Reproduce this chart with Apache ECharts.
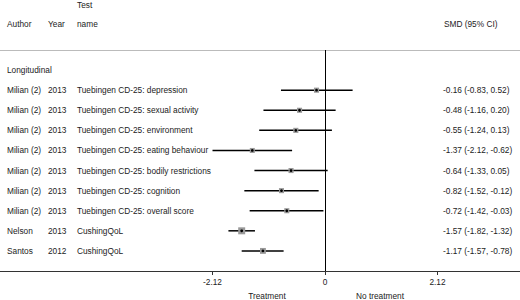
<!DOCTYPE html>
<html>
<head>
<meta charset="utf-8">
<script src="https://cdn.jsdelivr.net/npm/echarts@6/dist/echarts.min.js"></script>
<style>
  html, body { margin: 0; padding: 0; background: #fff; }
  #forest { width: 520px; height: 300px; }
</style>
</head>
<body>
<div id="forest"></div>
<script>
// rows of the forest plot (row 0 is the "Longitudinal" group header)
var groupLabel = 'Longitudinal';
var authors = ['Milian (2)', 'Milian (2)', 'Milian (2)', 'Milian (2)', 'Milian (2)', 'Milian (2)', 'Milian (2)', 'Nelson', 'Santos'];
var years = ['2013', '2013', '2013', '2013', '2013', '2013', '2013', '2013', '2012'];
var testNames = [
  'Tuebingen CD-25: depression',
  'Tuebingen CD-25: sexual activity',
  'Tuebingen CD-25: environment',
  'Tuebingen CD-25: eating behaviour',
  'Tuebingen CD-25: bodily restrictions',
  'Tuebingen CD-25: cognition',
  'Tuebingen CD-25: overall score',
  'CushingQoL',
  'CushingQoL'
];
var smd   = [-0.16, -0.48, -0.55, -1.37, -0.64, -0.82, -0.72, -1.57, -1.17];
var lower = [-0.83, -1.16, -1.24, -2.12, -1.33, -1.52, -1.42, -1.82, -1.57];
var upper = [ 0.52,  0.20,  0.13, -0.62,  0.05, -0.12, -0.03, -1.32, -0.78];
var xTicks = [-2.12, 0, 2.12];

var font = 'Liberation Sans, Arial, sans-serif';
var txtColor = '#222';
var fs = 8.3;

var chart = echarts.init(document.getElementById('forest'), null, {renderer: 'svg'});

// one data item per row index
var rows = [[0, -1]];
smd.forEach(function (v, i) { rows.push([0, i + 1, i]); });

function txt(x, y, s, align) {
  return {
    type: 'text',
    style: {x: x, y: y, text: s, fill: txtColor, font: fs + 'px ' + font,
      textAlign: align || 'left', textVerticalAlign: 'middle'}
  };
}

var option = {
  animation: false,
  grid: {left: 0, right: 0, top: 50, bottom: 29},
  xAxis: [{
    type: 'value', min: -6.124, max: 3.674, position: 'bottom',
    splitLine: {show: false},
    axisLine: {onZero: false, lineStyle: {color: '#333', width: 1}},
    axisTick: {show: true, customValues: xTicks, length: 4, lineStyle: {color: '#333'}},
    axisLabel: {customValues: xTicks, color: txtColor, fontSize: fs, fontFamily: font, margin: 7,
      formatter: function (v) { return String(v); }}
  }, {
    type: 'value', min: -6.124, max: 3.674, position: 'top',
    splitLine: {show: false},
    axisLine: {onZero: false, lineStyle: {color: '#bbb', width: 1}},
    axisTick: {show: false}, axisLabel: {show: false}
  }],
  yAxis: {
    type: 'value', min: -1, max: 10, inverse: true, show: false
  },
  graphic: [
    txt(77, 5, 'Test'),
    txt(7, 24, 'Author'),
    txt(48, 24, 'Year'),
    txt(77, 24, 'name'),
    txt(444, 24, 'SMD (95% CI)'),
    txt(267, 296, 'Treatment', 'center'),
    txt(380, 296, 'No treatment', 'center')
  ],
  series: [{
    type: 'custom',
    data: rows,
    silent: true,
    markLine: {
      silent: true, symbol: 'none', label: {show: false},
      lineStyle: {color: '#000', width: 1, type: 'solid'},
      data: [{xAxis: 0}]
    },
    renderItem: function (params, api) {
      var i = rows[params.dataIndex][2];
      var y = api.coord([0, params.dataIndex])[1];
      if (i === undefined) {
        return {type: 'group', children: [txt(7, y, groupLabel)]};
      }
      var pL = api.coord([lower[i], 0])[0];
      var pU = api.coord([upper[i], 0])[0];
      var pM = api.coord([smd[i], 0])[0];
      var box = 4 + 1.5 / (upper[i] - lower[i]);
      return {
        type: 'group',
        children: [
          txt(7, y, authors[i]),
          txt(48, y, years[i]),
          txt(77, y, testNames[i]),
          txt(443, y, smd[i].toFixed(2) + ' (' + lower[i].toFixed(2) + ', ' + upper[i].toFixed(2) + ')'),
          {type: 'line', shape: {x1: pL, y1: y, x2: pU, y2: y},
            style: {stroke: '#000', lineWidth: 1.5}},
          {type: 'rect', shape: {x: pM - box / 2, y: y - box / 2, width: box, height: box},
            style: {fill: '#999'}},
          {type: 'circle', shape: {cx: pM, cy: y, r: 1.4}, style: {fill: '#000'}}
        ]
      };
    }
  }]
};

chart.setOption(option);
</script>
</body>
</html>
